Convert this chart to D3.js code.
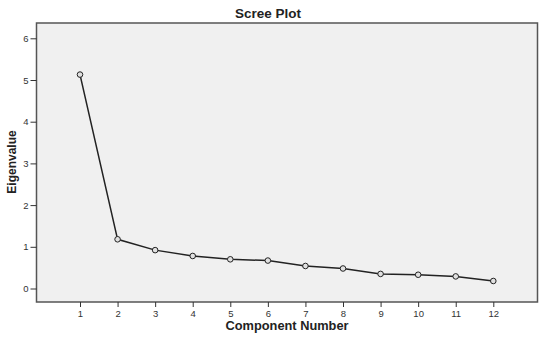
<!DOCTYPE html>
<html>
<head>
<meta charset="utf-8">
<script src="https://cdn.jsdelivr.net/npm/d3@7"></script>
<style>
  body { margin: 0; background: #fff; }
  svg { display: block; font-family: "Liberation Sans", Arial, sans-serif; }
</style>
</head>
<body>
<div id="chart"></div>
<script>
// data
const components = [1, 2, 3, 4, 5, 6, 7, 8, 9, 10, 11, 12];
const eigenvalues = [5.13, 1.18, 0.92, 0.78, 0.70, 0.67, 0.54, 0.48, 0.35, 0.33, 0.29, 0.18];
const yTicks = [0, 1, 2, 3, 4, 5, 6];

const width = 550, height = 339;
const box = { left: 36.5, right: 537.5, top: 23, bottom: 302 };

const svg = d3.select("#chart")
    .append("svg")
    .attr("width", width)
    .attr("height", height);

// scales (pixel ends)
const xScale = d3.scaleLinear().domain([1, 12]).range([80, 493.3]);
const yScale = d3.scaleLinear().domain([0, 6]).range([288.5, 38.3]);

// plot background
svg.append("rect")
    .attr("x", box.left)
    .attr("y", box.top)
    .attr("width", box.right - box.left)
    .attr("height", box.bottom - box.top)
    .attr("fill", "#f0f0f0")
    .attr("stroke", "#555")
    .attr("stroke-width", 1.5);

// y axis
const yAxis = svg.append("g")
    .attr("transform", `translate(${box.left},0)`)
    .call(d3.axisLeft(yScale).tickValues(yTicks).tickSize(6).tickPadding(2).tickFormat(d3.format("d")));
yAxis.select(".domain").remove();
yAxis.selectAll("line").attr("stroke", "#333");
yAxis.selectAll("text")
    .attr("font-size", "9.5px")
    .attr("fill", "#333")
    .style("font-family", "Liberation Sans, Arial, sans-serif");

// x axis
const xAxis = svg.append("g")
    .attr("transform", `translate(0,${box.bottom})`)
    .call(d3.axisBottom(xScale).tickValues(components).tickSize(5).tickPadding(3).tickFormat(d3.format("d")));
xAxis.select(".domain").remove();
xAxis.selectAll("line").attr("stroke", "#333");
xAxis.selectAll("text")
    .attr("font-size", "9.5px")
    .attr("fill", "#333")
    .style("font-family", "Liberation Sans, Arial, sans-serif");

// line
const line = d3.line()
    .x((d, i) => xScale(components[i]))
    .y(d => yScale(d));

svg.append("path")
    .datum(eigenvalues)
    .attr("fill", "none")
    .attr("stroke", "#222")
    .attr("stroke-width", 1.5)
    .attr("d", line);

// points
svg.selectAll(".dot")
    .data(eigenvalues)
    .enter()
    .append("circle")
    .attr("class", "dot")
    .attr("cx", (d, i) => xScale(components[i]))
    .attr("cy", d => yScale(d))
    .attr("r", 2.8)
    .attr("fill", "#e0e0e0")
    .attr("stroke", "#222")
    .attr("stroke-width", 1);

// titles
svg.append("text")
    .attr("x", 268)
    .attr("y", 18)
    .attr("text-anchor", "middle")
    .attr("font-size", "13.5px")
    .attr("font-weight", "bold")
    .attr("fill", "#222")
    .text("Scree Plot");

svg.append("text")
    .attr("x", 287)
    .attr("y", 330)
    .attr("text-anchor", "middle")
    .attr("font-size", "12.8px")
    .attr("font-weight", "bold")
    .attr("fill", "#222")
    .text("Component Number");

svg.append("text")
    .attr("transform", `translate(16,162) rotate(-90)`)
    .attr("text-anchor", "middle")
    .attr("font-size", "12px")
    .attr("font-weight", "bold")
    .attr("fill", "#222")
    .text("Eigenvalue");
</script>
</body>
</html>
